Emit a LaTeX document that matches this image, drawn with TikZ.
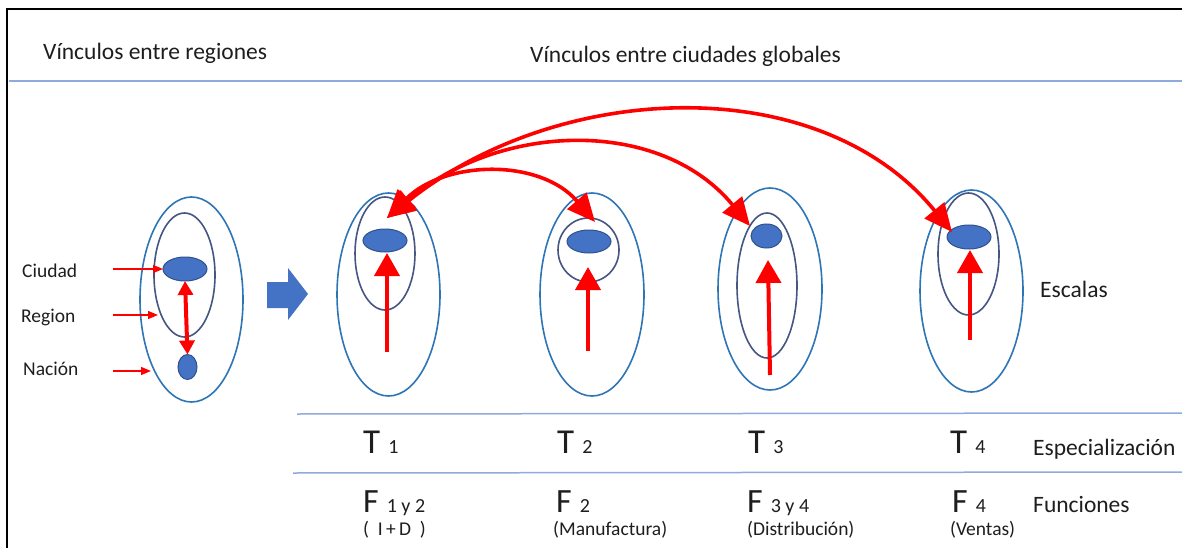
\documentclass[tikz,border=0pt]{standalone}
\usepackage{fontspec}
\setmainfont{Carlito}
\usetikzlibrary{shapes.geometric,arrows.meta}
\definecolor{outerblue}{RGB}{46,117,182}
\definecolor{innerblue}{RGB}{70,86,130}
\definecolor{cityfill}{RGB}{68,114,196}
\definecolor{cityedge}{RGB}{47,82,143}
\definecolor{sepline}{RGB}{143,170,220}
\definecolor{txt}{RGB}{30,30,30}
\definecolor{redarr}{RGB}{255,0,0}
\tikzset{
  outerell/.style={ellipse, draw=outerblue, line width=1.6pt, inner sep=0pt, outer sep=0pt},
  innerell/.style={ellipse, draw=innerblue, line width=1.6pt, inner sep=0pt, outer sep=0pt},
  cityell/.style={ellipse, draw=cityedge, fill=cityfill, line width=1pt, inner sep=0pt, outer sep=0pt},
  lab/.style={inner sep=0pt, anchor=base west, text=txt},
  big/.style={lab, font=\fontsize{23.5}{27}\selectfont},
  small/.style={lab, font=\fontsize{19.5}{22}\selectfont},
  upred/.style={draw=redarr, line width=4pt, -{Triangle[length=23pt,width=25pt]}},
  arcred/.style={draw=redarr, line width=3.6pt, {Triangle[length=28pt,width=25pt]}-{Triangle[length=28pt,width=25pt]}},
  thinred/.style={draw=redarr, line width=1.3pt, -{Triangle[length=10pt,width=8pt]}},
  sep/.style={draw=sepline, line width=1.5pt}
}
\newcommand{\Tlab}[1]{\fontsize{35}{38}\selectfont T\hspace{8pt}{\fontsize{20}{22}\selectfont #1}}
\newcommand{\Flab}[1]{\fontsize{34}{38}\selectfont F\hspace{8pt}{\fontsize{20}{22}\selectfont #1}}
\begin{document}
\begin{tikzpicture}[x=1pt,y=-1pt]
\useasboundingbox (0,0) rectangle (1182,548);
\fill[white] (0,0) rectangle (1182,548);
% frame
\draw[black, line width=2.4pt] (7,548) -- (7,9) -- (1182,9);
% separator lines
\draw[sep] (9,81) -- (1182,81);
\draw[sep] (297,414) -- (1182,413);
\draw[sep] (293,473) -- (1182,472);
% titles
\node[big] (tl) at (43,60) {Vínculos entre regiones};
\node[big] (tr) at (530,63) {Vínculos entre ciudades globales};
% left diagram
\node[outerell, minimum width=103pt, minimum height=205pt] (o0) at (191.5,299.5) {};
\node[innerell, minimum width=61pt, minimum height=124pt] (i0) at (184.5,275) {};
\node[cityell, minimum width=44pt, minimum height=24pt] (c0) at (185,269) {};
\node[cityell, minimum width=19pt, minimum height=25pt] (n0) at (187.5,367) {};
\draw[draw=redarr, line width=4pt, {Triangle[length=14pt,width=15pt]}-{Triangle[length=14pt,width=15pt]}] (c0.south) -- (n0.north);
\node[small] (lc) at (22,277) {Ciudad};
\node[small] (lr) at (21,322) {Region};
\node[small] (ln) at (23,375) {Nación};
\coordinate (sc) at (113,269);
\coordinate (sr) at (113,315);
\coordinate (er) at (158,315);
\coordinate (sn) at (113,371);
\coordinate (en) at (151,371);
\draw[thinred] (sc) -- (c0.west);
\draw[thinred] (sr) -- (er);
\draw[thinred] (sn) -- (en);
% block arrow
\fill[cityfill] (267,282) -- (288,282) -- (288,268) -- (308,294) -- (288,320) -- (288,308) -- (267,308) -- cycle;
% diagram 1
\node[outerell, minimum width=103pt, minimum height=203pt] (o1) at (388.5,294.5) {};
\node[innerell, minimum width=60pt, minimum height=113pt] (i1) at (385,253.5) {};
\node[cityell, minimum width=44pt, minimum height=23pt] (c1) at (385,240.5) {};
% diagram 2
\node[outerell, minimum width=104pt, minimum height=203pt] (o2) at (592,294.5) {};
\node[innerell, minimum width=61pt, minimum height=64pt] (i2) at (588.5,250) {};
\node[cityell, minimum width=44pt, minimum height=23pt] (c2) at (589,241.5) {};
% diagram 3
\node[outerell, minimum width=104pt, minimum height=202pt] (o3) at (770,289) {};
\node[innerell, minimum width=60pt, minimum height=145pt] (i3) at (767,285.5) {};
\node[cityell, minimum width=31pt, minimum height=24pt] (c3) at (766.5,236) {};
% diagram 4
\node[outerell, minimum width=103pt, minimum height=202pt] (o4) at (971.5,291) {};
\node[innerell, minimum width=61pt, minimum height=122pt] (i4) at (968.5,254) {};
\node[cityell, minimum width=44pt, minimum height=24pt] (c4) at (969,237) {};
% vertical arrows
\coordinate (b1) at (387,352); \coordinate (t1) at (387,253);
\coordinate (b2) at (588,351); \coordinate (t2) at (588,267);
\coordinate (b3) at (770,375); \coordinate (t3) at (768,260);
\coordinate (b4) at (970,340); \coordinate (t4) at (970,250);
\draw[upred] (b1) -- (t1);
\draw[upred] (b2) -- (t2);
\draw[upred] (b3) -- (t3);
\draw[upred] (b4) -- (t4);
% arcs
\coordinate (a1) at (387,218);
\coordinate (a2) at (595,222);
\coordinate (a3) at (750,226);
\coordinate (a4) at (952,232);
\draw[arcred] (a1) .. controls (560,80) and (820,70) .. (a4);
\draw[arcred] (a1) .. controls (500,122) and (660,117) .. (a3);
\draw[arcred] (a1) .. controls (445,160) and (540,158) .. (a2);
% right labels
\node[big] (esc) at (1040,297) {Escalas};
\node[big] (esp) at (1033,455) {Especialización};
\node[big] (fun) at (1033,512) {Funciones};
% T row
\node[lab] (T1) at (363,453) {\Tlab{1}};
\node[lab] (T2) at (557,453) {\Tlab{2}};
\node[lab] (T3) at (748,453) {\Tlab{3}};
\node[lab] (T4) at (950,453) {\Tlab{4}};
% F row
\node[lab] (F1) at (363,512) {\Flab{1 y 2}};
\node[lab] (F2) at (556,512) {\Flab{2}};
\node[lab] (F3) at (747,512) {\Flab{3 y 4}};
\node[lab] (F4) at (952,512) {\Flab{4}};
% function names
\node[small] (d1) at (363,535) {(\ \ I\,+\,D\ \ )};
\node[small] (d2) at (553,535) {(Manufactura)};
\node[small] (d3) at (747,535) {(Distribución)};
\node[small] (d4) at (950,535) {(Ventas)};
\end{tikzpicture}
\end{document}
